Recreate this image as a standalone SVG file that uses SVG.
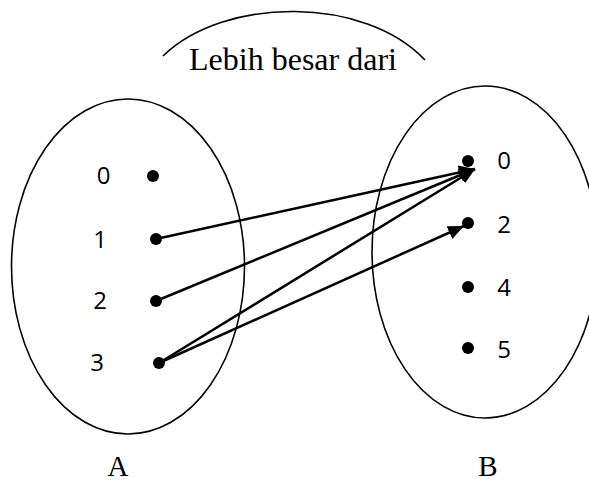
<svg xmlns="http://www.w3.org/2000/svg" width="589" height="483" viewBox="0 0 589 483">
<style>
.set{fill:none;stroke:#000;stroke-width:1.6}
.dot{fill:#000}
.num{font-family:"Open Sans","Liberation Sans",sans-serif;font-size:24px;fill:#000}
.ttl{font-family:"Liberation Serif",serif;font-size:29px;fill:#000}
.arr{fill:none;stroke:#000;stroke-width:2.5}
</style>
<defs>
<marker id="ah" markerUnits="userSpaceOnUse" markerWidth="18" markerHeight="14" refX="16" refY="7" orient="auto">
<path d="M0,0 L16,7 L0,14 Z" fill="#000"/>
</marker>
</defs>
<rect width="589" height="483" fill="#fff"/>
<g id="relation">
<path d="M163,56 C225,-4 365,-4 425,60" class="set"/>
<text x="293" y="70" text-anchor="middle" class="ttl" style="font-size:32px">Lebih besar dari</text>
</g>
<g id="setA">
<ellipse cx="128" cy="266.5" rx="116.5" ry="167.5" class="set"/>
<text x="118" y="476" text-anchor="middle" class="ttl">A</text>
</g>
<g id="a0"><circle cx="153" cy="176" r="6" class="dot"/><text x="103.5" y="183.5" text-anchor="middle" class="num">0</text></g>
<g id="a1"><circle cx="156" cy="239" r="6" class="dot"/><text x="100" y="247.5" text-anchor="middle" class="num">1</text></g>
<g id="a2"><circle cx="156" cy="301" r="6" class="dot"/><text x="100" y="308.5" text-anchor="middle" class="num">2</text></g>
<g id="a3"><circle cx="159" cy="363" r="6" class="dot"/><text x="97" y="371" text-anchor="middle" class="num">3</text></g>
<g id="setB">
<ellipse cx="485" cy="252" rx="113" ry="166" class="set"/>
<text x="488" y="476" text-anchor="middle" class="ttl">B</text>
</g>
<g id="b0"><circle cx="468" cy="161" r="6" class="dot"/><text x="504" y="169" text-anchor="middle" class="num">0</text></g>
<g id="b2"><circle cx="468" cy="223" r="6" class="dot"/><text x="504" y="232.5" text-anchor="middle" class="num">2</text></g>
<g id="b4"><circle cx="468" cy="287" r="6" class="dot"/><text x="504" y="296" text-anchor="middle" class="num">4</text></g>
<g id="b5"><circle cx="468" cy="348" r="6" class="dot"/><text x="504" y="358" text-anchor="middle" class="num">5</text></g>
<g id="connectors">
<line x1="156" y1="239" x2="475" y2="169" class="arr" marker-end="url(#ah)"/>
<line x1="156" y1="301" x2="475" y2="169" class="arr" marker-end="url(#ah)"/>
<line x1="159" y1="363" x2="475" y2="169" class="arr" marker-end="url(#ah)"/>
<line x1="159" y1="363" x2="464" y2="226" class="arr" marker-end="url(#ah)"/>
</g>
</svg>
